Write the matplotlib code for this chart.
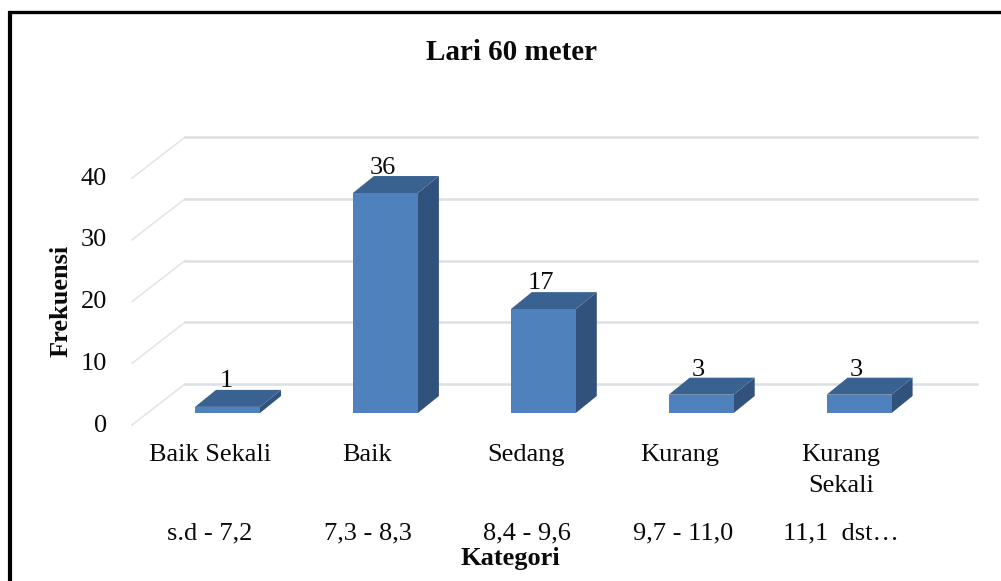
import numpy as np
import matplotlib
matplotlib.use('Agg')
import matplotlib.pyplot as plt
from matplotlib.patches import Polygon

plt.rcParams['font.family'] = ['Liberation Serif', 'DejaVu Serif']

categories = ['Baik Sekali', 'Baik', 'Sedang', 'Kurang', 'Kurang\nSekali']
ranges = ['s.d - 7,2', '7,3 - 8,3', '8,4 - 9,6', '9,7 - 11,0', '11,1  dst…']
values = [1, 36, 17, 3, 3]
y_ticks = [0, 10, 20, 30, 40]

W, H = 1001, 581
X0, CAT_W = 227.5, 157.9     # pixel of first bar centre, pixels per category
Y0, UNIT = 413.0, 6.11       # pixel of value 0 on the bar front, pixels per unit
FS = 19
TEXT = '#0a0a0a'


def px(x):
    return (x - X0) / CAT_W


def py(y):
    return (Y0 - y) / UNIT


fig = plt.figure(figsize=(W / 100, H / 100), dpi=100)
ax = fig.add_axes([0, 0, 1, 1])
ax.set_xlim(px(0), px(W))
ax.set_ylim(py(H), py(0))
ax.axis('off')

# depth of the 3d look, in data units
bar_w = 65 / CAT_W
dx = 21 / CAT_W
dy = 17 / UNIT
wall_y = 29 / UNIT           # back wall floor above the bar base
front_y = -12 / UNIT         # front floor below the bar base
wall_x = px(185)
front_x = px(132)
grid_end = px(977)

# gridlines, back wall and side wall
for t in y_ticks:
    g = t * 1.01
    ax.plot([front_x, wall_x], [g + front_y, g + wall_y],
            color='#e2e4e6', lw=1.1, zorder=1)
    ax.plot([wall_x, grid_end], [g + wall_y, g + wall_y],
            color='#dcdfe3', lw=1.8, zorder=1)
    ax.text(px(107), g + front_y - 0.5 / UNIT, str(t), ha='right', va='center',
            fontsize=FS, color=TEXT)

# bars
for i, v in enumerate(values):
    l, r = i - bar_w / 2, i + bar_w / 2
    ax.add_patch(Polygon([(r, 0), (r + dx, dy), (r + dx, v + dy), (r, v)],
                         fc='#30527c', ec='none', zorder=3))
    ax.add_patch(Polygon([(l, v), (r, v), (r + dx, v + dy), (l + dx, v + dy)],
                         fc='#3a6290', ec='none', zorder=3))
    ax.add_patch(Polygon([(l, 0), (r, 0), (r, v), (l, v)],
                         fc='#4f81bd', ec='none', zorder=4))

# value labels, placement read per bar
value_x = [226, 383, 541, 698, 856]
value_y = [387, 174, 289, 376, 376]
for i, v in enumerate(values):
    ax.text(px(value_x[i]), py(value_y[i]), str(v), ha='center', va='baseline',
            fontsize=FS, color=TEXT, zorder=2)

# category and range labels
label_x = [210, 367, 526, 680, 841]
range_x = [210, 368, 527, 683, 841]
for i, c in enumerate(categories):
    lines = c.split('\n')
    ax.text(px(label_x[i]), py(455), lines[0], ha='center', va='center',
            fontsize=FS, color=TEXT)
    if len(lines) > 1:
        ax.text(px(label_x[i]), py(486), lines[1], ha='center', va='center',
                fontsize=FS, color=TEXT)
    ax.text(px(range_x[i]), py(533), ranges[i], ha='center', va='center',
            fontsize=FS, color=TEXT)

ax.text(px(511), py(53), 'Lari 60 meter', ha='center', va='center',
        fontsize=21, fontweight='bold', color=TEXT)
ax.text(px(510), py(558), 'Kategori', ha='center', va='center',
        fontsize=19, fontweight='bold', color=TEXT)
ax.text(px(61), py(301), 'Frekuensi', ha='center', va='center', rotation=90,
        fontsize=19, fontweight='bold', color=TEXT)

# black frame, top and left only
ax.plot([px(8), px(W)], [py(12), py(12)], color='black', lw=2.4, zorder=5,
        solid_capstyle='butt')
ax.plot([px(10), px(10)], [py(11), py(H)], color='black', lw=3, zorder=5,
        solid_capstyle='butt')

fig.savefig('out.png', dpi=100)
